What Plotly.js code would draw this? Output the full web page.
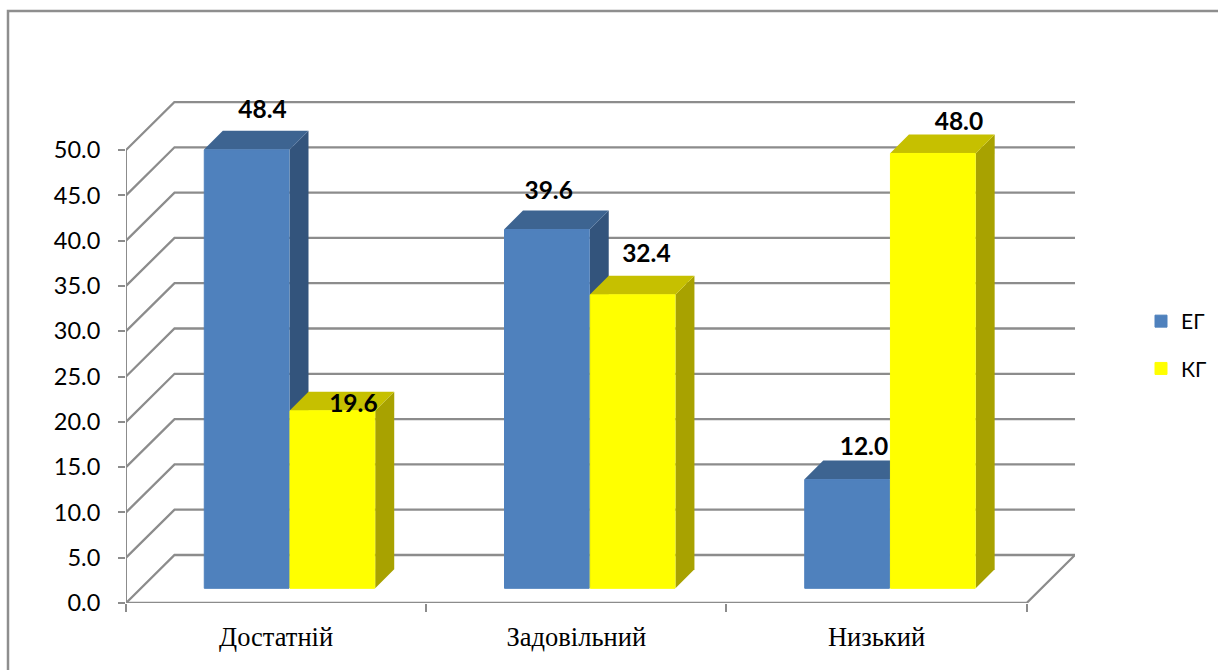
<!DOCTYPE html>
<html>
<head>
<meta charset="utf-8">
<script src="https://cdn.plot.ly/plotly-3.0.1.min.js"></script>
<style>html,body{margin:0;padding:0;background:#fff;overflow:hidden}</style>
</head>
<body>
<div id="chart" style="width:1218px;height:670px"></div>
<script>
// Data
const categories = ['Достатній', 'Задовільний', 'Низький'];
const seriesNames = ['ЕГ', 'КГ'];
const egValues = [48.4, 39.6, 12.0];
const kgValues = [19.6, 32.4, 48.0];
const yTicks = [0, 5, 10, 15, 20, 25, 30, 35, 40, 45, 50];

// Colours
const BLUE = ['#4F81BD', '#3D6491', '#33547C'];   // front, top, side
const YELLOW = ['#FFFF00', '#C6C000', '#A8A200'];
const GRID = '#8C8C8C';

// Oblique projection, in axis units (one x unit = one category)
const xMax = 3.161, yMax = 55.41;
const wallDx = 0.1616, wallDy = 5.3;
const barDx = 0.0633, barDy = 2.1;
const barShift = 0.0446, barBase = 1.62, barWidth = 0.2855;

const lineShape = (xs, ys, width) => ({
  type: 'path', layer: 'below', xref: 'x', yref: 'y',
  path: xs.map((x, i) => (i ? 'L' : 'M') + x + ',' + ys[i]).join(' '),
  line: {color: GRID, width: width || 2.3}
});
const faceShape = (xs, ys, color) => ({
  type: 'path', layer: 'below', xref: 'x', yref: 'y',
  path: xs.map((x, i) => (i ? 'L' : 'M') + x + ',' + ys[i]).join(' ') + ' Z',
  fillcolor: color, line: {width: 0}
});

const shapes = [];
// walls: one line per tick, diagonal on the side wall then along the back wall
yTicks.forEach(v => shapes.push(lineShape([0, wallDx, xMax], [v, v + wallDy, v + wallDy])));
// floor front edge, right edge, and the vertical value axis
shapes.push(lineShape([0, categories.length, xMax], [0, 0, wallDy]));
shapes.push(lineShape([0, 0], [0, 50], 2));

const leftX = categories.map((c, i) => i + 0.5 + barShift - barWidth);
const rightX = categories.map((c, i) => i + 0.5 + barShift);

function addFaces(xs, vals, col) {
  vals.forEach((v, i) => {
    const l = xs[i], r = l + barWidth, top = barBase + v;
    shapes.push(faceShape([r, r + barDx, r + barDx, r], [barBase, barBase + barDy, top + barDy, top], col[2]));
    shapes.push(faceShape([l, l + barDx, r + barDx, r], [top, top + barDy, top + barDy, top], col[1]));
  });
}
addFaces(leftX, egValues, BLUE);
addFaces(rightX, kgValues, YELLOW);

const barTrace = (name, xs, vals, col) => ({
  type: 'bar', name, legendgroup: name,
  x: xs.map(x => x + barWidth / 2), y: vals,
  base: vals.map(() => barBase), width: barWidth - 0.0033,
  marker: {color: col[0], line: {color: col[0], width: 1}},
  hoverinfo: 'y'
});

// data labels: nudges in axis units from the top centre of each front face
const labelNudgeX = [0.053, 0.006, 0.056, 0.07, 0.046, 0.087];
const labelNudgeY = [4.17, 4.07, 3.4, 0.57, 4.27, 3.27];
const labelVals = egValues.concat(kgValues);
const labelX = leftX.concat(rightX).map((x, i) => x + barWidth / 2 + labelNudgeX[i]);
const labelY = labelVals.map((v, i) => barBase + v + labelNudgeY[i]);

const labelTrace = {
  type: 'scatter', mode: 'text', showlegend: false, hoverinfo: 'skip', cliponaxis: false,
  x: labelX, y: labelY,
  text: labelVals.map(v => v.toFixed(1)),
  textposition: 'middle center',
  textfont: {family: 'Lato', size: 24.5, color: '#000', weight: 700}
};

const W = 949, H = 502;
shapes.push({
  type: 'rect', xref: 'paper', yref: 'paper', layer: 'above',
  x0: (8 - 126) / W, x1: (1240 - 126) / W,
  y0: (603 - 700) / H, y1: (603 - 11) / H,
  line: {color: '#8E8E8E', width: 2.5}, fillcolor: 'rgba(0,0,0,0)'
});

const layout = {
  width: 1218, height: 670, autosize: false,
  margin: {l: 126, r: 143, t: 101, b: 67, autoexpand: false},
  paper_bgcolor: '#fff', plot_bgcolor: 'rgba(0,0,0,0)',
  barmode: 'overlay', showlegend: true,
  xaxis: {
    range: [0, xMax], showgrid: false, zeroline: false, showline: false, automargin: false,
    tickmode: 'array', tickvals: categories.map((c, i) => i + 0.5), ticktext: categories,
    ticks: '', ticklabelstandoff: 15,
    tickfont: {family: 'Liberation Serif', size: 26.5, color: '#000'},
    minor: {tickmode: 'array', tickvals: [0, 1, 2, 3], ticks: 'outside', ticklen: 8, tickwidth: 2, tickcolor: GRID, showgrid: false}
  },
  yaxis: {
    range: [0, yMax], showgrid: false, zeroline: false, showline: false, automargin: false,
    tickmode: 'array', tickvals: yTicks, ticktext: yTicks.map(v => v.toFixed(1)),
    ticks: 'outside', ticklen: 7, tickwidth: 2, tickcolor: GRID, ticklabelstandoff: 13,
    tickfont: {family: 'Lato', size: 23.5, color: '#000'}
  },
  legend: {
    x: (1141 - 126) / W, y: (603 - 301) / H, xanchor: 'left', yanchor: 'top',
    font: {family: 'Lato', size: 21, color: '#000'},
    tracegroupgap: 17, bgcolor: 'rgba(0,0,0,0)', itemclick: false, itemdoubleclick: false
  },
  shapes
};

Plotly.newPlot('chart', [
  barTrace(seriesNames[0], leftX, egValues, BLUE),
  barTrace(seriesNames[1], rightX, kgValues, YELLOW),
  labelTrace
], layout, {displayModeBar: false});
</script>
</body>
</html>
